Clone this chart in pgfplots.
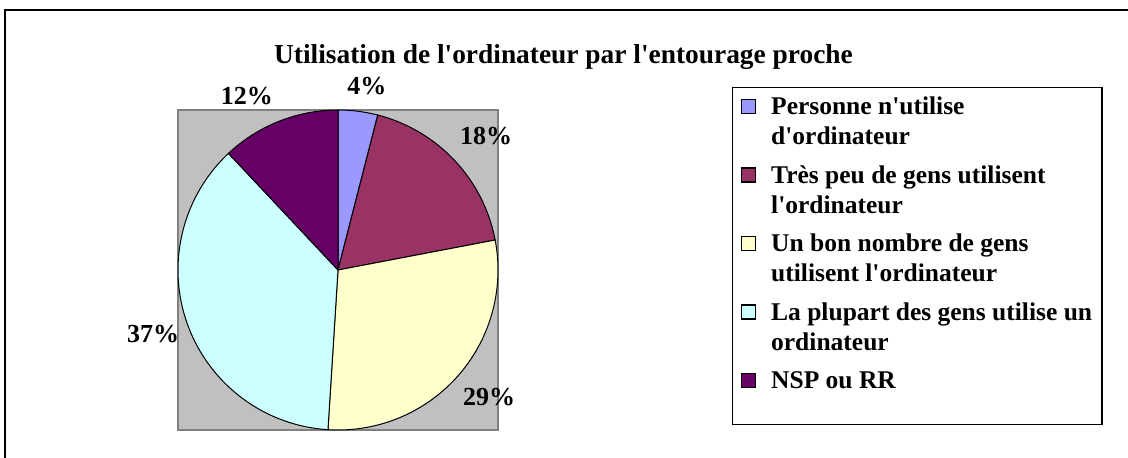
\documentclass[border=0pt]{standalone}
\usepackage{fontspec}
\setmainfont{Liberation Serif}
\usepackage{pgfplots}
\usepackage{pgfplotstable}
\pgfplotsset{compat=1.18}
\definecolor{c0}{HTML}{9999FF}
\definecolor{c1}{HTML}{993366}
\definecolor{c2}{HTML}{FFFFCC}
\definecolor{c3}{HTML}{CCFFFF}
\definecolor{c4}{HTML}{660066}
\definecolor{plotgray}{HTML}{C0C0C0}
\definecolor{bordergray}{HTML}{808080}
\pgfplotstableread{
v lx ly
4 0.181 1.094
18 0.925 0.7875
29 0.944 -0.844
37 -1.156 -0.456
12 -0.569 1.0375
}\piedata
\def\cumsum{0}
\pgfplotsforeachungrouped \i in {0,...,4}{%
  \pgfplotstablegetelem{\i}{v}\of\piedata
  \pgfmathsetmacro\tmpst{90-3.6*\cumsum}%
  \pgfmathsetmacro\cumsum{\cumsum+\pgfplotsretval}%
  \pgfmathsetmacro\tmpen{90-3.6*\cumsum}%
  \expandafter\xdef\csname pieS\i\endcsname{\tmpst}%
  \expandafter\xdef\csname pieE\i\endcsname{\tmpen}%
}
\newcommand\slice[1]{%
  \filldraw[fill=c#1, draw=black, line width=1bp]
    (axis cs:0,0) -- ++(\csname pieS#1\endcsname:160bp)
    arc[start angle=\csname pieS#1\endcsname, end angle=\csname pieE#1\endcsname, radius=160bp] -- cycle;}
\newcommand\ap{\textquotesingle}
\begin{document}%
\begin{tikzpicture}
\useasboundingbox (0bp,0bp) rectangle (1128bp,-458bp);
\draw[line width=2bp] (5bp,-460bp) -- (5bp,-10bp) -- (1130bp,-10bp);
\node[font=\bfseries\fontsize{27.4bp}{32bp}\selectfont, anchor=base, inner sep=0pt] at (563.5bp,-63bp)
  {Utilisation de l\ap ordinateur par l\ap entourage proche};
\begin{axis}[
  at={(338bp,-270bp)}, anchor=origin,
  x=160bp, y=160bp,
  xmin=-1, xmax=1, ymin=-1, ymax=1,
  xtick=\empty, ytick=\empty,
  axis line style={draw=bordergray, line width=1.5bp},
  axis background/.style={fill=plotgray},
  clip=false,
  legend image code/.code={\draw[#1] (0bp,1bp) rectangle (14bp,15bp);},
  legend style={
    at={(1.731,1.072)}, anchor=north west,
    draw=black, line width=1.5bp, fill=white,
    inner xsep=8bp, inner ysep=4bp,
    row sep=12bp, column sep=13bp,
    font=\bfseries\fontsize{25.5bp}{30bp}\selectfont,
    cells={anchor=base west, inner sep=0pt},
  },
]
\slice{0}
\slice{1}
\slice{2}
\slice{3}
\slice{4}
\addplot[forget plot, only marks, mark=none,
  point meta=explicit,
  nodes near coords={\pgfmathprintnumber[assume math mode=true]{\pgfplotspointmeta}\%},
  every node near coord/.append style={anchor=base, inner sep=0pt,
    font=\bfseries\fontsize{26bp}{30bp}\selectfont, text=black}]
  table[x=lx, y=ly, meta=v] {\piedata};
\addlegendimage{fill=c0, draw=black, yshift=30bp}
\addlegendentry{\begin{tabular}[b]{@{}l@{}}Personne n\ap utilise\\d\ap ordinateur\end{tabular}}
\addlegendimage{fill=c1, draw=black, yshift=30bp}
\addlegendentry{\begin{tabular}[b]{@{}l@{}}Très peu de gens utilisent\\l\ap ordinateur\end{tabular}}
\addlegendimage{fill=c2, draw=black, yshift=30bp}
\addlegendentry{\begin{tabular}[b]{@{}l@{}}Un bon nombre de gens\\utilisent l\ap ordinateur\end{tabular}}
\addlegendimage{fill=c3, draw=black, yshift=30bp}
\addlegendentry{\begin{tabular}[b]{@{}l@{}}La plupart des gens utilise un\\ordinateur\end{tabular}}
\addlegendimage{fill=c4, draw=black}
\addlegendentry{NSP ou RR\strut}
\addlegendimage{empty legend}
\addlegendentry{\rule{0pt}{11bp}}
\end{axis}
\end{tikzpicture}%
\end{document}
